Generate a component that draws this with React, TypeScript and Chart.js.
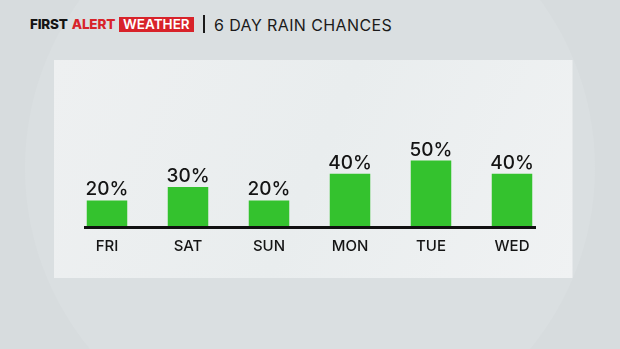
import React, { useEffect, useRef } from "react";
import { Chart, registerables } from "chart.js";

Chart.register(...registerables);

const days: string[] = ["FRI", "SAT", "SUN", "MON", "TUE", "WED"];
const rainChances: number[] = [20, 30, 20, 40, 50, 40];
const yMin = 0;
const yMax = 100;
const titleText = "6 DAY RAIN CHANCES";

const FONT = "Inter, 'Open Sans', 'DejaVu Sans', sans-serif";

const panelPlugin = {
  id: "panel",
  beforeDraw(chart: any) {
    const { ctx, chartArea: ca } = chart;
    const x0 = ca.left - 12.5;
    const x1 = ca.right + 20;
    const y0 = ca.top - 34;
    const y1 = ca.bottom + 51;
    ctx.save();
    const g = ctx.createLinearGradient(x0, y0, x1, y1);
    g.addColorStop(0, "#eef0f1");
    g.addColorStop(0.5, "#e9edee");
    g.addColorStop(1, "#f0f2f3");
    ctx.fillStyle = g;
    ctx.fillRect(x0, y0, x1 - x0, y1 - y0);
    ctx.restore();
  },
};

const decorPlugin = {
  id: "decor",
  afterDatasetsDraw(chart: any) {
    const { ctx, chartArea: ca } = chart;
    const yScale = chart.scales.y;
    const base = yScale.getPixelForValue(0);
    ctx.save();
    ctx.fillStyle = "#111111";
    ctx.fillRect(ca.left + 17.5, base - 1, ca.right - ca.left - 34, 3);
    const meta = chart.getDatasetMeta(0);
    ctx.font = `500 19px ${FONT}`;
    ctx.textAlign = "center";
    ctx.textBaseline = "alphabetic";
    ctx.fillStyle = "#141414";
    meta.data.forEach((bar: any, i: number) => {
      ctx.fillText(`${rainChances[i]}%`, bar.x, bar.y - 5);
    });
    ctx.restore();
  },
};

export default function App() {
  const ref = useRef<HTMLCanvasElement | null>(null);
  useEffect(() => {
    if (!ref.current) return;
    const chart = new Chart(ref.current, {
      type: "bar",
      data: {
        labels: days,
        datasets: [
          {
            data: rainChances,
            backgroundColor: "#34c22e",
            borderWidth: 0,
            categoryPercentage: 1,
            barPercentage: 0.5,
          },
        ],
      },
      options: {
        responsive: false,
        animation: false,
        devicePixelRatio: 1,
        layout: { padding: { left: 66.5, right: 67.5, top: 94, bottom: 92 } },
        plugins: { legend: { display: false }, tooltip: { enabled: false } },
        scales: {
          x: {
            grid: { display: false },
            border: { display: false },
            ticks: {
              color: "#151515",
              padding: 2,
              font: { family: FONT, size: 15, weight: "500" },
            },
          },
          y: { display: false, min: yMin, max: yMax },
        },
      },
      plugins: [panelPlugin, decorPlugin],
    });
    return () => chart.destroy();
  }, []);

  return (
    <div
      style={{
        position: "fixed",
        left: 0,
        top: 0,
        width: 620,
        height: 349,
        overflow: "hidden",
        background: "#d7dcde",
        fontFamily: FONT,
      }}
    >
      <div
        style={{
          position: "absolute",
          left: 25,
          top: -117,
          width: 570,
          height: 570,
          borderRadius: "50%",
          background:
            "radial-gradient(circle at 50% 50%, #dadfe1 0%, #dadfe1 90%, #cdd0d2 95%, #bec1c3 98.3%, #cbcecf 99.1%, #eceeef 99.7%, rgba(215,220,222,0) 100%)",
        }}
      />
      <div
        style={{
          position: "absolute",
          left: 30,
          top: 16,
          height: 16,
          display: "flex",
          alignItems: "center",
          fontWeight: 800,
          fontSize: 13.5,
          letterSpacing: -0.2,
        }}
      >
        <span style={{ color: "#141414" }}>FIRST</span>
        <span style={{ color: "#d8232a", marginLeft: 4 }}>ALERT</span>
        <span
          style={{
            color: "#ffffff",
            background: "#d8232a",
            marginLeft: 4,
            padding: "0 4px",
            height: 15,
            lineHeight: "15px",
            fontWeight: 600,
            fontSize: 13.5,
            letterSpacing: 0,
          }}
        >
          WEATHER
        </span>
      </div>
      <div
        style={{
          position: "absolute",
          left: 203,
          top: 15,
          width: 2,
          height: 18,
          background: "#1a1a1a",
        }}
      />
      <div
        style={{
          position: "absolute",
          left: 214,
          top: 15,
          fontSize: 16,
          lineHeight: "20px",
          letterSpacing: 0.4,
          color: "#1a1a1a",
          fontWeight: 400,
          whiteSpace: "nowrap",
        }}
      >
        {titleText}
      </div>
      <canvas
        ref={ref}
        width={620}
        height={349}
        style={{ position: "absolute", left: 0, top: 0, width: 620, height: 349 }}
      />
    </div>
  );
}
